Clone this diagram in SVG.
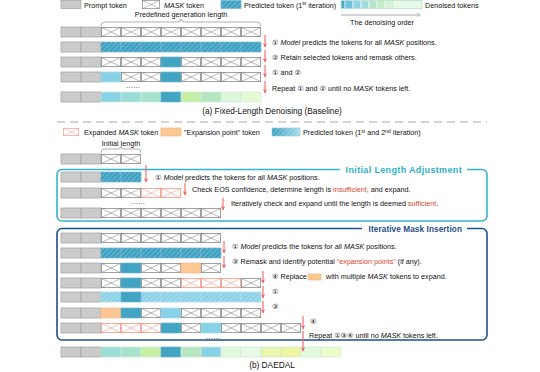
<svg xmlns="http://www.w3.org/2000/svg" width="540" height="372" viewBox="0 0 540 372">
<defs>
<style>
text{font-family:"Liberation Sans","DejaVu Sans",sans-serif;font-size:7.2px;fill:#111}
.i{font-style:italic}
.r{fill:#d9452f}
.cap{font-size:8.3px}
.t1{font-weight:bold;font-size:9px;letter-spacing:.35px;fill:#2eb0c8}
.t2{font-weight:bold;font-size:8.2px;letter-spacing:.1px;fill:#1d4f8c}
.p{fill:#cbcbcb;stroke:#a8a8a8;stroke-width:.8}
.d{fill:#42a4c3;stroke:#6fb6cd;stroke-width:.7}
.h{fill:#3fa2c2;stroke:#6fb6cd;stroke-width:.7}
.lh{fill:#8ed2e6;stroke:#a8dcec;stroke-width:.7}
.o{fill:#fdc796;stroke:#f5b883;stroke-width:.7}
.c{stroke:#ffffff;stroke-width:.6}
.hw{fill:url(#hw)}
.ar{stroke:#f06868;stroke-width:1.1;fill:none;marker-end:url(#ah)}
.brace{fill:none;stroke:#999;stroke-width:.8}
</style>
<pattern id="hw" patternUnits="userSpaceOnUse" width="3.5" height="3.5" patternTransform="rotate(45)">
<line x1="0" y1="0" x2="0" y2="3.5" stroke="#ffffff" stroke-opacity=".5" stroke-width=".8"/>
</pattern>
<linearGradient id="lg" x1="0" x2="1" y1="0" y2="0">
<stop offset="0" stop-color="#3fa2c2"/><stop offset="1" stop-color="#a8dcec"/>
</linearGradient>
<symbol id="m" viewBox="0 0 20 10" width="20" height="10" overflow="visible">
<rect x=".4" y=".4" width="19.2" height="9.2" fill="#fff" stroke="#8a8a8a" stroke-width=".8"/>
<path d="M.4 .4L19.6 9.6M19.6 .4L.4 9.6" stroke="#8a8a8a" stroke-width=".6" fill="none"/>
</symbol>
<symbol id="s" viewBox="0 0 20 10" width="20" height="10" overflow="visible">
<rect x=".4" y=".4" width="19.2" height="9.2" fill="#fff" stroke="#ef9a88" stroke-width=".8"/>
<path d="M.4 .4L19.6 9.6M19.6 .4L.4 9.6" stroke="#ef9a88" stroke-width=".6" fill="none"/>
</symbol>
<marker id="ah" viewBox="0 0 10 10" refX="8" refY="5" markerWidth="4.5" markerHeight="4.5" orient="auto">
<path d="M0 0.5L9 5L0 9.5L2.5 5z" fill="#f06868"/>
</marker>
<marker id="ag" viewBox="0 0 10 10" refX="8" refY="5" markerWidth="5" markerHeight="5" orient="auto">
<path d="M1 1L9 5L1 9" fill="none" stroke="#aaa" stroke-width="1.2"/>
</marker>
</defs>
<rect width="540" height="372" fill="#fff"/>

<!-- Legend (a) -->
<g id="legend-a">
<rect class="p" x="61" y="0.5" width="20" height="8"/>
<text x="84" y="7.5">Prompt token</text>
<use href="#m" x="141" y="0" width="20" height="9"/>
<text x="164" y="7.5"><tspan class="i">MASK</tspan> token</text>
<rect class="h" x="221" y="0.5" width="20" height="8"/>
<rect class="hw" x="221" y="0.5" width="20" height="8"/>
<text x="244" y="7.5">Predicted token (1<tspan font-size="5" dy="-2.5">st</tspan><tspan dy="2.5"> iteration)</tspan></text>
<g class="c">
<rect x="341" y="0.5" width="4" height="8" fill="#4aa8c4"/>
<rect x="345" y="0.5" width="8" height="8" fill="#70c4dc"/>
<rect x="353" y="0.5" width="8" height="8" fill="#90d4e6"/>
<rect x="361" y="0.5" width="8" height="8" fill="#a4dcdc"/>
<rect x="369" y="0.5" width="8" height="8" fill="#b4e4cc"/>
<rect x="377" y="0.5" width="8" height="8" fill="#c4ecc4"/>
<rect x="385" y="0.5" width="10" height="8" fill="#d6f4d4"/>
<rect x="395" y="0.5" width="27" height="8" fill="#e6fae4"/>
</g>
<rect x="341" y="0.5" width="81" height="8" fill="none" stroke="#9fd3c9" stroke-width=".6"/>
<text x="425" y="7.5">Denoised tokens</text>
<line x1="341" y1="15" x2="420" y2="15" stroke="#aaa" stroke-width="1" marker-end="url(#ag)"/>
<text x="350" y="25">The denoising order</text>
</g>

<g id="gen-length">
<text x="181" y="17" text-anchor="middle">Predefined generation length</text>
<path class="brace" d="M101 26Q101 22 105 22L177 22Q181 22 181 19Q181 22 185 22L257 22Q261 22 261 26"/>
</g>

<!-- (a) rows -->
<g id="a-row1">
<rect class="p" x="61" y="27" width="20" height="10"/><rect class="p" x="81" y="27" width="20" height="10"/>
<use href="#m" x="101" y="27"/><use href="#m" x="121" y="27"/><use href="#m" x="141" y="27"/><use href="#m" x="161" y="27"/>
<use href="#m" x="181" y="27"/><use href="#m" x="201" y="27"/><use href="#m" x="221" y="27"/><use href="#m" x="241" y="27"/>
</g>
<g id="a-row2">
<rect class="p" x="61" y="42" width="20" height="10"/><rect class="p" x="81" y="42" width="20" height="10"/>
<rect class="h" x="101" y="42" width="20" height="10"/><rect class="h" x="121" y="42" width="20" height="10"/>
<rect class="h" x="141" y="42" width="20" height="10"/><rect class="h" x="161" y="42" width="20" height="10"/>
<rect class="h" x="181" y="42" width="20" height="10"/><rect class="h" x="201" y="42" width="20" height="10"/>
<rect class="h" x="221" y="42" width="20" height="10"/><rect class="h" x="241" y="42" width="20" height="10"/>
<rect class="hw" x="101" y="42" width="160" height="10"/>
</g>
<g id="a-row3">
<rect class="p" x="61" y="57" width="20" height="10"/><rect class="p" x="81" y="57" width="20" height="10"/>
<use href="#m" x="101" y="57"/><use href="#m" x="121" y="57"/><use href="#m" x="141" y="57"/>
<rect class="d" x="161" y="57" width="20" height="10"/>
<use href="#m" x="181" y="57"/><use href="#m" x="201" y="57"/><use href="#m" x="221" y="57"/><use href="#m" x="241" y="57"/>
</g>
<g id="a-row4">
<rect class="p" x="61" y="72" width="20" height="10"/><rect class="p" x="81" y="72" width="20" height="10"/>
<rect x="101" y="72" width="20" height="10" fill="#88d2e6" stroke="#a6dcea" stroke-width=".7"/>
<use href="#m" x="121" y="72"/><use href="#m" x="141" y="72"/>
<rect class="d" x="161" y="72" width="20" height="10"/>
<use href="#m" x="181" y="72"/><use href="#m" x="201" y="72"/><use href="#m" x="221" y="72"/><use href="#m" x="241" y="72"/>
</g>
<text x="133" y="88" text-anchor="middle">……</text>
<g id="a-row5" stroke="#d0e8e0" stroke-width=".7">
<rect class="p" x="61" y="92" width="20" height="10"/><rect class="p" x="81" y="92" width="20" height="10"/>
<rect x="101" y="92" width="20" height="10" fill="#88d2e6"/>
<rect x="121" y="92" width="20" height="10" fill="#9adcd8"/>
<rect x="141" y="92" width="20" height="10" fill="#a6e2cc"/>
<rect class="d" x="161" y="92" width="20" height="10"/>
<rect x="181" y="92" width="20" height="10" fill="#c6eea4"/>
<rect x="201" y="92" width="20" height="10" fill="#b6e6c0"/>
<rect x="221" y="92" width="20" height="10" fill="#def8dc"/>
<rect x="241" y="92" width="20" height="10" fill="#e6fad2"/>
</g>

<g id="a-steps">
<text x="272" y="45">① <tspan class="i">Model</tspan>  predicts the tokens for all <tspan class="i">MASK</tspan> positions.</text>
<text x="272" y="60">② Retain selected tokens and remask others.</text>
<text x="272" y="75">① and ②</text>
<text x="272" y="91">Repeat ① and ② until no <tspan class="i">MASK</tspan> tokens left.</text>
</g>
<text class="cap" x="272" y="114" text-anchor="middle">(a) Fixed-Length Denoising (Baseline)</text>
<line x1="57" y1="122" x2="487" y2="122" stroke="#aaa" stroke-width="1.2" stroke-dasharray="8 5"/>

<!-- Legend (b) -->
<g id="legend-b">
<use href="#s" x="61" y="128" width="20" height="8"/>
<text x="84" y="135">Expanded <tspan class="i">MASK</tspan> token</text>
<rect class="o" x="161" y="128" width="20" height="8"/>
<text x="184" y="135">"Expansion point" token</text>
<rect x="272" y="128" width="28" height="8" fill="url(#lg)" stroke="#8cc8dc" stroke-width=".6"/>
<rect class="hw" x="272" y="128" width="28" height="8"/>
<text x="303" y="135">Predicted token (1<tspan font-size="5" dy="-2.5">st</tspan><tspan dy="2.5"> and 2</tspan><tspan font-size="5" dy="-2.5">nd</tspan><tspan dy="2.5"> iteration)</tspan></text>
</g>

<g id="init-length">
<text x="121" y="146" text-anchor="middle">Initial length</text>
<path class="brace" d="M101 153Q101 149 104 149L118 149Q121 149 121 146.5Q121 149 124 149L138 149Q141 149 141 153"/>
</g>
<g id="b-init-row">
<rect class="p" x="61" y="154" width="20" height="10"/><rect class="p" x="81" y="154" width="20" height="10"/>
<use href="#m" x="101" y="154"/><use href="#m" x="121" y="154"/>
</g>

<!-- Initial Length Adjustment box -->
<g id="ila-box">
<rect x="57" y="169.5" width="430" height="51.5" rx="5" fill="none" stroke="#36b4cb" stroke-width="1.6"/>
<rect x="340" y="164" width="127" height="10" fill="#fff"/>
<text class="t1" x="462" y="173" text-anchor="end">Initial Length Adjustment</text>
</g>
<g id="ila-row1">
<rect class="p" x="61" y="172" width="20" height="10"/><rect class="p" x="81" y="172" width="20" height="10"/>
<rect class="h" x="101" y="172" width="20" height="10"/><rect class="h" x="121" y="172" width="20" height="10"/>
<rect class="hw" x="101" y="172" width="40" height="10"/>
</g>
<g id="ila-row2">
<rect class="p" x="61" y="188" width="20" height="10"/><rect class="p" x="81" y="188" width="20" height="10"/>
<use href="#m" x="101" y="188"/><use href="#m" x="121" y="188"/>
<use href="#s" x="141" y="188"/><use href="#s" x="161" y="188"/>
</g>
<text x="138" y="204" text-anchor="middle">……</text>
<g id="ila-row3">
<rect class="p" x="61" y="208" width="20" height="10"/><rect class="p" x="81" y="208" width="20" height="10"/>
<use href="#m" x="101" y="208"/><use href="#m" x="121" y="208"/><use href="#m" x="141" y="208"/>
<use href="#m" x="161" y="208"/><use href="#m" x="181" y="208"/><use href="#m" x="201" y="208"/>
</g>
<g id="ila-steps">
<text x="155" y="180">① <tspan class="i">Model</tspan>  predicts the tokens for all <tspan class="i">MASK</tspan> positions.</text>
<text x="192" y="192">Check EOS confidence, determine length is <tspan class="r">insufficient</tspan>, and expand.</text>
<text x="231" y="206">Iteratively check and expand until the length is deemed <tspan class="r">sufficient</tspan>.</text>
</g>

<!-- Iterative Mask Insertion box -->
<g id="imi-box">
<rect x="57" y="228.5" width="430" height="111.5" rx="5" fill="none" stroke="#1d4f8c" stroke-width="1.6"/>
<rect x="362" y="223" width="105" height="10" fill="#fff"/>
<text class="t2" x="462" y="232" text-anchor="end">Iterative Mask Insertion</text>
</g>
<g id="imi-rowA">
<rect class="p" x="61" y="233" width="20" height="10"/><rect class="p" x="81" y="233" width="20" height="10"/>
<use href="#m" x="101" y="233"/><use href="#m" x="121" y="233"/><use href="#m" x="141" y="233"/>
<use href="#m" x="161" y="233"/><use href="#m" x="181" y="233"/><use href="#m" x="201" y="233"/>
</g>
<g id="imi-rowB">
<rect class="p" x="61" y="248" width="20" height="10"/><rect class="p" x="81" y="248" width="20" height="10"/>
<rect class="h" x="101" y="248" width="20" height="10"/><rect class="h" x="121" y="248" width="20" height="10"/>
<rect class="h" x="141" y="248" width="20" height="10"/><rect class="h" x="161" y="248" width="20" height="10"/>
<rect class="h" x="181" y="248" width="20" height="10"/><rect class="h" x="201" y="248" width="20" height="10"/>
<rect class="hw" x="101" y="248" width="120" height="10"/>
</g>
<g id="imi-rowC">
<rect class="p" x="61" y="263" width="20" height="10"/><rect class="p" x="81" y="263" width="20" height="10"/>
<use href="#m" x="101" y="263"/>
<rect class="d" x="121" y="263" width="20" height="10"/>
<use href="#m" x="141" y="263"/><use href="#m" x="161" y="263"/>
<rect class="o" x="181" y="263" width="20" height="10"/>
<use href="#m" x="201" y="263"/>
</g>
<g id="imi-rowD">
<rect class="p" x="61" y="278" width="20" height="10"/><rect class="p" x="81" y="278" width="20" height="10"/>
<use href="#m" x="101" y="278"/>
<rect class="d" x="121" y="278" width="20" height="10"/>
<use href="#m" x="141" y="278"/><use href="#m" x="161" y="278"/>
<use href="#s" x="181" y="278"/><use href="#s" x="201" y="278"/><use href="#s" x="221" y="278"/>
<use href="#m" x="241" y="278"/>
</g>
<g id="imi-rowE">
<rect class="p" x="61" y="292" width="20" height="10"/><rect class="p" x="81" y="292" width="20" height="10"/>
<rect class="lh" x="101" y="292" width="20" height="10"/>
<rect class="lh" x="141" y="292" width="20" height="10"/><rect class="lh" x="161" y="292" width="20" height="10"/>
<rect class="lh" x="181" y="292" width="20" height="10"/><rect class="lh" x="201" y="292" width="20" height="10"/>
<rect class="lh" x="221" y="292" width="20" height="10"/><rect class="lh" x="241" y="292" width="20" height="10"/>
<rect class="hw" x="101" y="292" width="20" height="10"/>
<rect class="hw" x="141" y="292" width="120" height="10"/>
<rect class="d" x="121" y="292" width="20" height="10"/>
</g>
<g id="imi-rowF">
<rect class="p" x="61" y="308" width="20" height="10"/><rect class="p" x="81" y="308" width="20" height="10"/>
<rect class="o" x="101" y="308" width="20" height="10"/>
<rect class="d" x="121" y="308" width="20" height="10"/>
<use href="#m" x="141" y="308"/>
<rect x="161" y="308" width="20" height="10" fill="#88d2e6" stroke="#a6dcea" stroke-width=".7"/>
<use href="#m" x="181" y="308"/><use href="#m" x="201" y="308"/><use href="#m" x="221" y="308"/><use href="#m" x="241" y="308"/>
</g>
<g id="imi-rowG">
<rect class="p" x="61" y="323" width="20" height="10"/><rect class="p" x="81" y="323" width="20" height="10"/>
<use href="#s" x="101" y="323"/><use href="#s" x="121" y="323"/><use href="#s" x="141" y="323"/>
<rect class="d" x="161" y="323" width="20" height="10"/>
<use href="#m" x="181" y="323"/>
<rect x="201" y="323" width="20" height="10" fill="#88d2e6" stroke="#a6dcea" stroke-width=".7"/>
<use href="#m" x="221" y="323"/><use href="#m" x="241" y="323"/><use href="#m" x="261" y="323"/><use href="#m" x="281" y="323"/>
</g>
<text x="213" y="339" text-anchor="middle">……</text>
<g id="imi-steps">
<text x="232" y="249">① <tspan class="i">Model</tspan>  predicts the tokens for all <tspan class="i">MASK</tspan> positions.</text>
<text x="232" y="264">③ Remask and identify potential <tspan class="r">"expansion points"</tspan> (if any).</text>
<text x="272" y="279">④ Replace</text>
<rect class="o" x="308" y="274" width="13" height="6"/>
<text x="326" y="279">with multiple <tspan class="i">MASK</tspan> tokens to expand.</text>
<text x="272" y="294">①</text>
<text x="272" y="309">③</text>
<text x="310" y="324">④</text>
<text x="309" y="338">Repeat ①③④ until no <tspan class="i">MASK</tspan> tokens left.</text>
</g>

<g id="final-row" stroke="#d0e8d8" stroke-width=".7">
<rect class="p" x="61" y="347" width="20" height="10"/><rect class="p" x="81" y="347" width="20" height="10"/>
<rect x="101" y="347" width="20" height="10" fill="#9adcd8"/>
<rect x="121" y="347" width="20" height="10" fill="#a8e4cc"/>
<rect x="141" y="347" width="20" height="10" fill="#c8eea8"/>
<rect class="d" x="161" y="347" width="20" height="10"/>
<rect x="181" y="347" width="20" height="10" fill="#b6e6c0"/>
<rect x="201" y="347" width="20" height="10" fill="#88d2e6"/>
<rect x="221" y="347" width="20" height="10" fill="#e0f8dc"/>
<rect x="241" y="347" width="20" height="10" fill="#e6fae6"/>
<rect x="261" y="347" width="20" height="10" fill="#eaf6ae"/>
<rect x="281" y="347" width="20" height="10" fill="#eef6a0"/>
<rect x="301" y="347" width="20" height="10" fill="#e2fae0"/>
<rect x="321" y="347" width="20" height="10" fill="#eafcc8"/>
</g>
<text class="cap" x="272" y="368" text-anchor="middle">(b) DAEDAL</text>

<g id="connectors">
<line class="ar" x1="265" y1="35" x2="265" y2="47"/>
<line class="ar" x1="265" y1="50" x2="265" y2="62"/>
<line class="ar" x1="265" y1="65" x2="265" y2="77"/>
<line class="ar" x1="265" y1="81" x2="265" y2="93"/>
<line class="ar" x1="146" y1="165" x2="146" y2="182"/>
<line class="ar" x1="185" y1="183" x2="185" y2="195"/>
<line class="ar" x1="223" y1="198" x2="223" y2="210"/>
<line class="ar" x1="224" y1="241" x2="224" y2="253"/>
<line class="ar" x1="224" y1="256" x2="224" y2="268"/>
<line class="ar" x1="263" y1="271" x2="263" y2="283"/>
<line class="ar" x1="263" y1="286" x2="263" y2="298"/>
<line class="ar" x1="263" y1="301" x2="263" y2="313"/>
<line class="ar" x1="303" y1="316" x2="303" y2="329"/>
<line class="ar" x1="303" y1="331" x2="303" y2="351"/>
</g>
</svg>
